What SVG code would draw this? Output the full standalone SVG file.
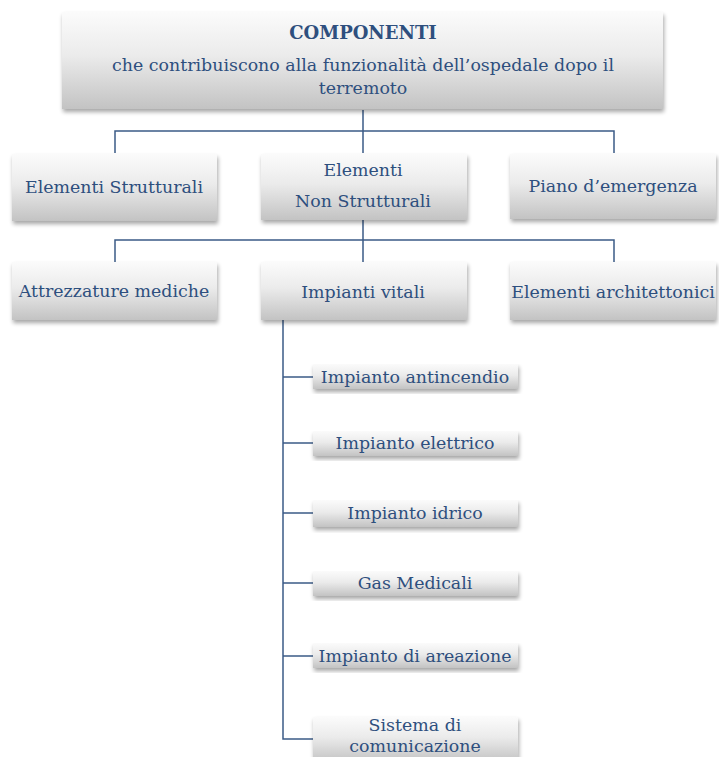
<svg xmlns="http://www.w3.org/2000/svg" width="719" height="757" viewBox="0 0 719 757">
  <defs>
    <linearGradient id="boxFill" x1="0" y1="0" x2="0" y2="1">
      <stop offset="0" stop-color="#fbfbfb"/>
      <stop offset="0.45" stop-color="#ebebeb"/>
      <stop offset="1" stop-color="#c3c3c3"/>
    </linearGradient>
    <filter id="shadow" x="-5%" y="-10%" width="110%" height="130%">
      <feGaussianBlur in="SourceAlpha" stdDeviation="2"/>
      <feOffset dx="1" dy="3" result="b"/>
      <feComponentTransfer><feFuncA type="linear" slope="0.35"/></feComponentTransfer>
      <feMerge><feMergeNode/><feMergeNode in="SourceGraphic"/></feMerge>
    </filter>
  </defs>
  <style>
    .box { fill: url(#boxFill); filter: url(#shadow); }
    .t { font-family: "DejaVu Serif", "Liberation Serif", serif; font-size: 17.4px; fill: #2e4f7e; text-anchor: middle; }
    .tb { font-weight: bold; font-size: 18px; }
    .links path { fill: none; stroke: #3b5b86; stroke-width: 1.5; }
  </style>

  <rect width="719" height="757" fill="#ffffff"/>

  <g class="links">
    <path d="M363 110 V131 M115 153 V131 H614 V153 M363 131 V153"/>
    <path d="M363 220 V240 M115 262 V240 H614 V262 M363 240 V262"/>
    <path d="M283 320 V739 H313"/>
    <path d="M283 377 H313 M283 443 H313 M283 513 H313 M283 583 H313 M283 656 H313"/>
  </g>

  <g id="root">
    <rect class="box" x="62" y="12" width="601" height="97"/>
    <text class="t tb" x="363" y="39">COMPONENTI</text>
    <text class="t" x="363" y="71">che contribuiscono alla funzionalità dell’ospedale  dopo il</text>
    <text class="t" x="363" y="94">terremoto</text>
  </g>

  <g id="strutturali">
    <rect class="box" x="12" y="154" width="205" height="67"/>
    <text class="t" x="114" y="193">Elementi Strutturali</text>
  </g>
  <g id="non-strutturali">
    <rect class="box" x="261" y="154" width="206" height="66"/>
    <text class="t" x="363" y="176">Elementi</text>
    <text class="t" x="363" y="207">Non Strutturali</text>
  </g>
  <g id="piano">
    <rect class="box" x="510" y="154" width="206" height="65"/>
    <text class="t" x="613" y="192">Piano d’emergenza</text>
  </g>

  <g id="attrezzature">
    <rect class="box" x="12" y="262" width="205" height="58"/>
    <text class="t" x="114" y="297">Attrezzature mediche</text>
  </g>
  <g id="impianti-vitali">
    <rect class="box" x="261" y="262" width="206" height="58"/>
    <text class="t" x="363" y="298">Impianti vitali</text>
  </g>
  <g id="architettonici">
    <rect class="box" x="510" y="262" width="206" height="58"/>
    <text class="t" x="613" y="298">Elementi architettonici</text>
  </g>

  <g id="antincendio">
    <rect class="box" x="313" y="364" width="205" height="25"/>
    <text class="t" x="415" y="383">Impianto antincendio</text>
  </g>
  <g id="elettrico">
    <rect class="box" x="313" y="431" width="205" height="25"/>
    <text class="t" x="415" y="449">Impianto elettrico</text>
  </g>
  <g id="idrico">
    <rect class="box" x="313" y="500" width="205" height="27"/>
    <text class="t" x="415" y="519">Impianto idrico</text>
  </g>
  <g id="gas">
    <rect class="box" x="313" y="571" width="205" height="25"/>
    <text class="t" x="415" y="589">Gas Medicali</text>
  </g>
  <g id="areazione">
    <rect class="box" x="313" y="643" width="205" height="25"/>
    <text class="t" x="415" y="662">Impianto di areazione</text>
  </g>
  <g id="comunicazione">
    <rect class="box" x="313" y="717" width="205" height="45"/>
    <text class="t" x="415" y="731">Sistema di</text>
    <text class="t" x="415" y="752">comunicazione</text>
  </g>
</svg>
